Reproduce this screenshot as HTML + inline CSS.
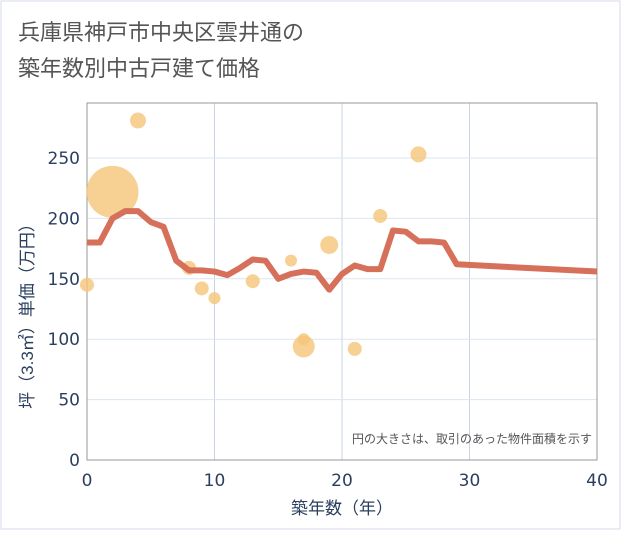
<!DOCTYPE html>
<html><head><meta charset="utf-8"><style>
body{margin:0;background:#fff;font-family:"Liberation Sans","Noto Sans CJK JP",sans-serif}
svg text{font-family:"Liberation Sans","Noto Sans CJK JP",sans-serif}
svg text.tk{font-family:"DejaVu Sans",sans-serif}
</style></head><body>
<svg width="621" height="530">
<rect x="1" y="1" width="619" height="528" fill="#fff" stroke="#d5dde8"/>
<text x="18" y="40" font-size="22" fill="#555">兵庫県神戸市中央区雲井通の</text>
<text x="18" y="76" font-size="22" fill="#555">築年数別中古戸建て価格</text>
<g id="grid"></g>
<rect x="87" y="103" width="510" height="357" fill="none" stroke="#999"/>
<g id="pts"></g>
<path id="line" fill="none" stroke="#d6705a" stroke-width="6" stroke-linejoin="round"/>
<g id="ticks"></g>
<text x="592" y="443" font-size="12" fill="#555" text-anchor="end">円の大きさは、取引のあった物件面積を示す</text>
<text x="342" y="514" font-size="17" fill="#2a3f5f" text-anchor="middle">築年数（年）</text>
<text transform="translate(33,312) rotate(-90)" font-size="17" fill="#2a3f5f" text-anchor="middle">坪（3.3㎡）単価（万円）</text>
</svg>
<script>
const lineYears=[0,1,2,3,4,5,6,7,8,9,10,11,12,13,14,15,16,17,18,19,20,21,22,23,24,25,26,27,28,29,40];
const lineValues=[180,180,200,206,206,197,193,165,157,157,156,153,159,166,165,150,154,156,155,141,154,161,158,158,190,189,181,181,180,162,156];
const ptYears=[0,2,4,8,9,10,13,16,17,17,19,21,23,26];
const ptValues=[145,222,281,159,142,134,148,165,94,100,178,92,202,253];
const ptSizes=[7,26,8,7,7,6,7,6,11,6,9,7,7,8];
const xTicks=[0,10,20,30,40];
const yTicks=[0,50,100,150,200,250];
const X=v=>87+v*12.75, Y=v=>460-v*1.208;
const NS="http://www.w3.org/2000/svg";
const grid=document.getElementById('grid'),ticks=document.getElementById('ticks'),pts=document.getElementById('pts');
function mk(t,a,p){const e=document.createElementNS(NS,t);for(const k in a)e.setAttribute(k,a[k]);p.appendChild(e);return e;}
xTicks.forEach(v=>{
 const l=mk('line',{x1:X(v),x2:X(v),y1:103,y2:460,stroke:'#c8d4e3'},grid);
 
 
 const t=mk('text',{x:X(v),y:486,'font-size':17,fill:'#2a3f5f','text-anchor':'middle','class':'tk'},ticks);t.textContent=v;
 
 
});
yTicks.forEach(v=>{
 const l=mk('line',{x1:87,x2:597,y1:Y(v),y2:Y(v),stroke:'#dbe5f1'},grid);
 
 
 const t=mk('text',{x:80,y:Y(v)+6,'font-size':17,fill:'#2a3f5f','text-anchor':'end','class':'tk'},ticks);t.textContent=v;
 
 
});
ptYears.forEach((yr,i)=>{
 const c=mk('circle',{cx:X(yr),cy:Y(ptValues[i]),r:ptSizes[i],fill:'#f5c678','fill-opacity':0.8},pts);
 
 
});
document.getElementById('line').setAttribute('d',lineYears.map((y,i)=>(i?'L':'M')+X(y)+','+Y(lineValues[i])).join(''));
</script>
</body></html>
